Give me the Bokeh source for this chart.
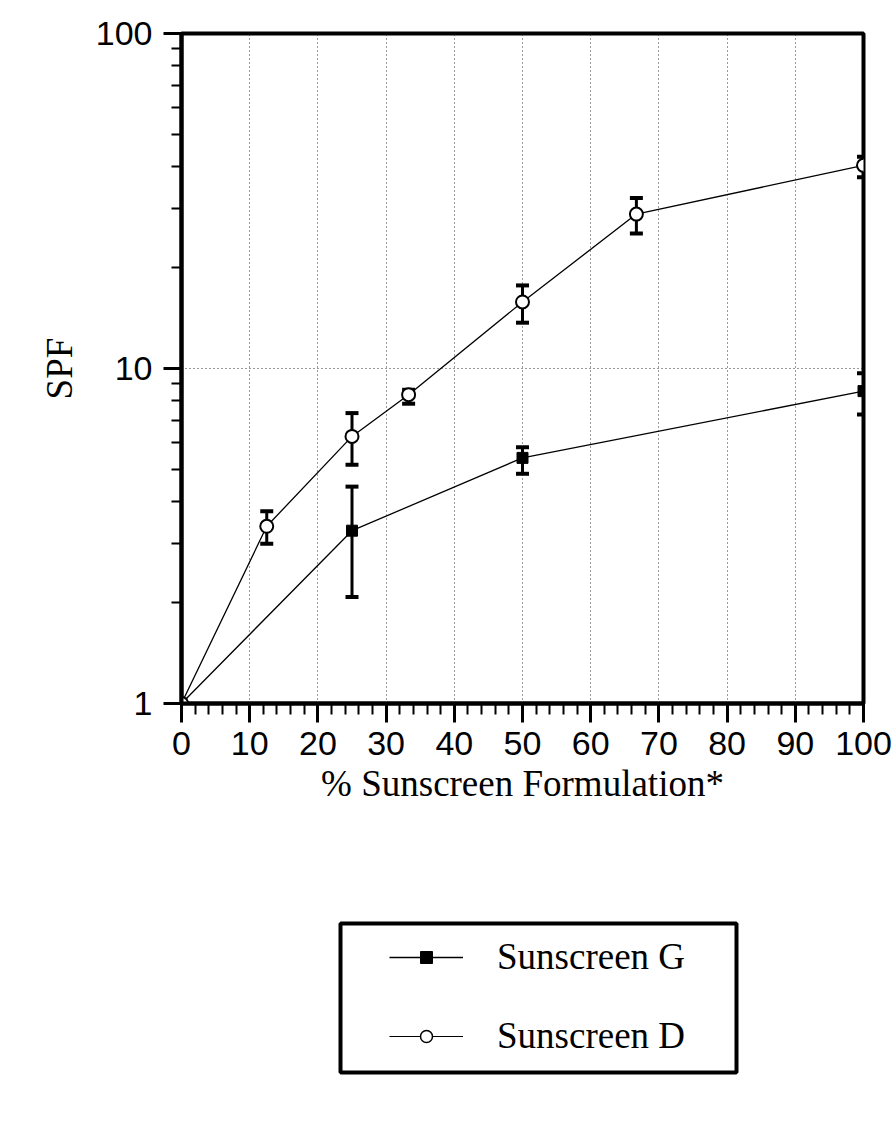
from bokeh.embed import file_html
from bokeh.layouts import column
from bokeh.models import (BoxAnnotation, ColumnDataSource, FixedTicker, Legend,
                          LegendItem, Range1d, TeeHead, Whisker)
from bokeh.plotting import figure
from bokeh.resources import INLINE

# Sunscreen D (open circles)
d_pct = [0, 12.5, 25, 33.3, 50, 66.7, 100]
d_spf = [1.0, 3.38, 6.27, 8.35, 15.8, 28.9, 40.4]
d_hi = [1.0, 3.75, 7.36, 8.64, 17.7, 32.3, 42.9]
d_lo = [1.0, 3.00, 5.16, 7.85, 13.7, 25.3, 37.2]

# Sunscreen G (filled squares)
g_pct = [0, 25, 50, 100]
g_spf = [1.0, 3.28, 5.41, 8.56]
g_hi = [1.0, 4.44, 5.82, 9.68]
g_lo = [1.0, 2.08, 4.85, 7.29]

x_ticks = list(range(0, 101, 10))
x_minor = list(range(0, 101, 2))
y_ticks = [1, 10, 100]
y_minor = [2, 3, 4, 5, 6, 7, 8, 9, 20, 30, 40, 50, 60, 70, 80, 90]

SANS = "Liberation Sans"
SERIF = "Liberation Serif"

p = figure(width=895, height=830, output_backend="svg", toolbar_location=None,
           y_axis_type="log", x_range=Range1d(0, 100), y_range=Range1d(1, 100),
           min_border_left=181, min_border_right=32, min_border_top=33,
           min_border_bottom=127)
p.outline_line_color = "black"
p.outline_line_width = 4

p.xaxis.ticker = FixedTicker(ticks=x_ticks, minor_ticks=x_minor)
p.yaxis.ticker = FixedTicker(ticks=y_ticks, minor_ticks=y_minor)
p.yaxis.major_label_overrides = {1: "1", 10: "10", 100: "100"}

for ax in (p.xaxis, p.yaxis):
    ax.axis_line_width = 4
    ax.axis_line_color = "black"
    ax.major_tick_line_width = 3
    ax.minor_tick_line_width = 2
    ax.major_tick_in = 0
    ax.minor_tick_in = 0
    ax.major_label_text_font = SANS
    ax.major_label_text_font_size = "34px"
    ax.major_label_text_color = "black"
    ax.axis_label_text_font = SERIF
    ax.axis_label_text_font_size = "37px"
    ax.axis_label_text_font_style = "normal"
    ax.axis_label_text_color = "black"

p.xaxis.major_tick_out = 19
p.xaxis.minor_tick_out = 11
p.xaxis.major_label_standoff = 9
p.yaxis.major_tick_out = 18
p.yaxis.minor_tick_out = 10
p.yaxis.major_label_standoff = 11

p.xaxis.axis_label = "% Sunscreen Formulation*"
p.yaxis.axis_label = "SPF"
p.xaxis.axis_label_standoff = 5
p.yaxis.axis_label_standoff = 13

p.grid.grid_line_color = "black"
p.grid.grid_line_width = 1
p.grid.grid_line_dash = "1 3"
p.grid.grid_line_alpha = 0.8
p.xgrid.ticker = FixedTicker(ticks=x_ticks[1:-1])
p.ygrid.ticker = FixedTicker(ticks=[10])

g_src = ColumnDataSource(dict(x=g_pct, y=g_spf, hi=g_hi, lo=g_lo))
d_src = ColumnDataSource(dict(x=d_pct, y=d_spf, hi=d_hi, lo=d_lo))

for src in (g_src, d_src):
    w = Whisker(base="x", upper="hi", lower="lo", source=src,
                line_color="black", line_width=3,
                upper_head=TeeHead(size=13, line_width=4, line_color="black"),
                lower_head=TeeHead(size=13, line_width=4, line_color="black"))
    p.add_layout(w)

p.line("x", "y", source=g_src, line_color="black", line_width=1.3)
p.scatter("x", "y", source=g_src, marker="square", size=11,
          fill_color="black", line_color="black")
p.line("x", "y", source=d_src, line_color="black", line_width=1.3)
p.scatter("x", "y", source=d_src, marker="circle", size=13,
          fill_color="white", line_color="black", line_width=2)

# legend panel: same horizontal frame as the chart, box drawn inside it
q = figure(width=895, height=318, output_backend="svg", toolbar_location=None,
           x_range=Range1d(0, 1), y_range=Range1d(0, 1),
           x_axis_location=None, y_axis_location=None,
           min_border_left=181, min_border_right=32, min_border_top=0,
           min_border_bottom=0)
q.grid.visible = False
q.outline_line_alpha = 0

# stand-in renderers (one off-range point) so the legend has glyphs to draw
stub = dict(x=[-1.0], y=[-1.0])
lg_g = q.line("x", "y", source=ColumnDataSource(stub), line_color="black", line_width=1.3)
mg = q.scatter("x", "y", source=ColumnDataSource(stub), marker="square",
               fill_color="black", line_color="black")
lg_d = q.line("x", "y", source=ColumnDataSource(stub), line_color="black", line_width=1)
md = q.scatter("x", "y", source=ColumnDataSource(stub), marker="circle",
               fill_color="white", line_color="black", line_width=1.5)

legend = Legend(items=[LegendItem(label="Sunscreen G", renderers=[lg_g, mg]),
                       LegendItem(label="Sunscreen D", renderers=[lg_d, md])],
                location=(208, 91), padding=0, spacing=36, margin=0,
                glyph_width=74, glyph_height=30, label_height=40,
                label_standoff=34, label_text_font=SERIF,
                label_text_font_size="37px", label_text_color="black",
                border_line_alpha=0, background_fill_alpha=0)
q.add_layout(legend)

box = BoxAnnotation(left=340, right=736, top=93, bottom=242,
                    left_units="canvas", right_units="canvas",
                    top_units="canvas", bottom_units="canvas",
                    fill_alpha=0, line_color="black", line_width=4,
                    line_alpha=1)
q.add_layout(box)

layout = column(p, q, spacing=0)
open("out.html", "w").write(file_html(layout, INLINE))
